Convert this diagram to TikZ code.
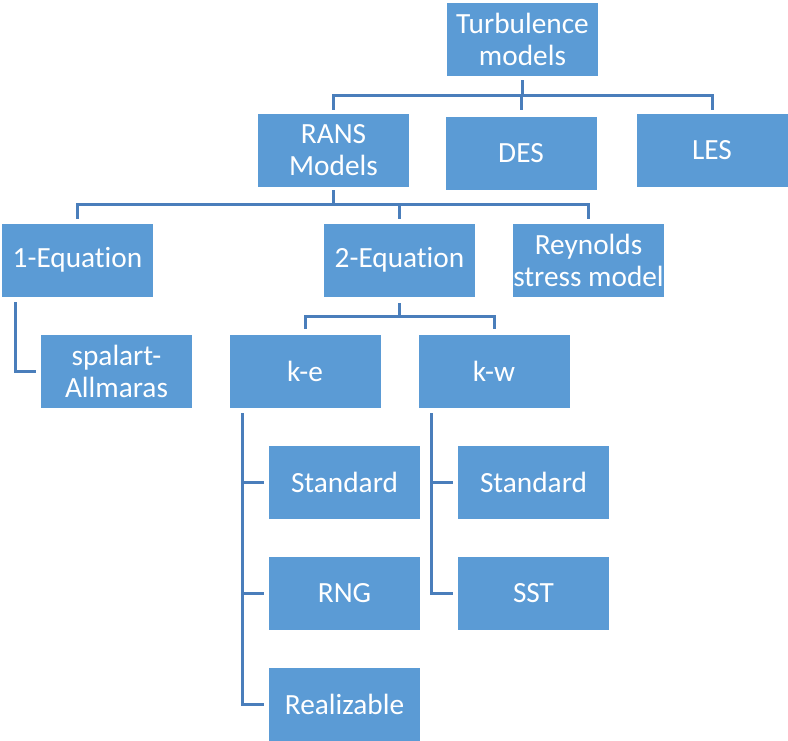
\documentclass[tikz,border=0pt]{standalone}
\usepackage{fontspec}
\setmainfont{Carlito}[Ligatures=CommonOff]
\usetikzlibrary{calc}
\definecolor{boxblue}{RGB}{91,155,213}
\definecolor{lineblue}{RGB}{74,126,187}
\tikzset{
  mbox/.style={rectangle, fill=boxblue, draw=white, line width=0.8pt,
    minimum width=152pt, minimum height=74pt, inner sep=0pt,
    text=white, align=center, font=\fontsize{29.3}{32}\selectfont},
  conn/.style={draw=lineblue, line width=3pt}
}
\begin{document}
\begin{tikzpicture}[x=1pt,y=-1pt]
\useasboundingbox (0,0) rectangle (788,741);
% level 0
\node[mbox] (tm) at (522.5,39) {Turbulence\\models};
% level 1
\node[mbox] (rans) at (333.5,150) {RANS\\Models};
\node[mbox] (des) at (521,153) {DES};
\node[mbox] (les) at (712,150) {LES};
% level 2
\node[mbox] (oneq) at (77.5,260) {1-Equation};
\node[mbox] (twoeq) at (399.5,260) {2-Equation};
\node[mbox] (reyn) at (588.5,260) {Reynolds\\stress model};
% level 3
\node[mbox] (spal) at (116.5,371) {spalart-\\Allmaras};
\node[mbox] (ke) at (305,371) {k-e};
\node[mbox] (kw) at (494,371) {k-w};
% level 4
\node[mbox] (std1) at (344.5,482) {Standard};
\node[mbox] (rng) at (344.5,593) {RNG};
\node[mbox] (real) at (344.5,704) {Realizable};
\node[mbox] (std2) at (533.5,482) {Standard};
\node[mbox] (sst) at (533.5,593) {SST};
% helper levels
\coordinate (h1) at (0,96);
\coordinate (d1) at (0,110);
\coordinate (h2) at (0,205);
\coordinate (d2) at (0,219);
\coordinate (h3) at (0,316);
\coordinate (d3) at (0,329);
% level 0 -> 1
\draw[conn] ([yshift=-4pt]tm.south) -- (tm.south |- h1);
\draw[conn] (rans.north |- d1) |- (les.north |- h1) -- (les.north |- d1);
\draw[conn] (des.north |- h1) -- (des.north |- d1);
% RANS -> level 2
\draw[conn] ([yshift=-3pt]rans.south) -- (rans.south |- h2);
\draw[conn] (oneq.north |- d2) |- (reyn.north |- h2) -- (reyn.north |- d2);
\draw[conn] (twoeq.north |- h2) -- (twoeq.north |- d2);
% 1-Equation -> spalart
\draw[conn] ([shift={(14pt,-5pt)}]oneq.south west) |- ([xshift=-4pt]spal.west);
% 2-Equation -> k-e, k-w
\draw[conn] ([yshift=-6pt]twoeq.south) -- (twoeq.south |- h3);
\draw[conn] (ke.north |- d3) |- (kw.north |- h3) -- (kw.north |- d3);
% k-e children
\coordinate (ket) at ([shift={(14pt,-5pt)}]ke.south west);
\draw[conn] (ket) |- ([xshift=-4pt]real.west);
\draw[conn] (ket |- std1.west) -- ([xshift=-4pt]std1.west);
\draw[conn] (ket |- rng.west) -- ([xshift=-4pt]rng.west);
% k-w children
\coordinate (kwt) at ([shift={(14pt,-5pt)}]kw.south west);
\draw[conn] (kwt) |- ([xshift=-4pt]sst.west);
\draw[conn] (kwt |- std2.west) -- ([xshift=-4pt]std2.west);
\end{tikzpicture}
\end{document}
